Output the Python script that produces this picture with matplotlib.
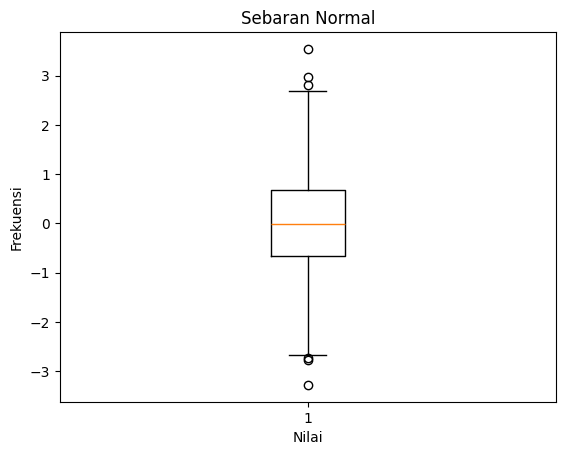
import matplotlib
matplotlib.use("Agg")
import matplotlib.pyplot as plt

# boxplot summary
med = -0.01
q1 = -0.66
q3 = 0.67
whislo = -2.67
whishi = 2.69
fliers = [3.54, 2.98, 2.81, -2.73, -2.78, -3.28]
label = "1"

stats = [{
    "med": med, "q1": q1, "q3": q3,
    "whislo": whislo, "whishi": whishi,
    "fliers": fliers, "label": label,
}]

fig, ax = plt.subplots(figsize=(6.4, 4.8))
ax.bxp(stats)
ax.set_title("Sebaran Normal")
ax.set_xlabel("Nilai")
ax.set_ylabel("Frekuensi")
fig.savefig("out.png", dpi=100, bbox_inches="tight")
